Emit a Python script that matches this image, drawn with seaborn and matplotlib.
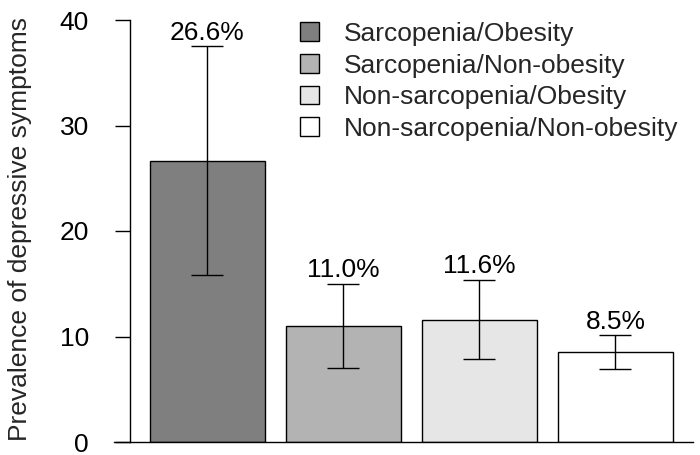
import numpy as np
import seaborn as sns
import matplotlib.pyplot as plt
from matplotlib.patches import Patch

groups = ['Sarcopenia/Obesity', 'Sarcopenia/Non-obesity',
          'Non-sarcopenia/Obesity', 'Non-sarcopenia/Non-obesity']
prevalence = [26.6, 11.0, 11.6, 8.5]
ci_low = [15.8, 7.0, 7.9, 6.9]
ci_high = [37.5, 15.0, 15.4, 10.1]
bar_labels = ['26.6%', '11.0%', '11.6%', '8.5%']
y_ticks = [0, 10, 20, 30, 40]
colors = ['#7F7F7F', '#B3B3B3', '#E6E6E6', '#FFFFFF']

sns.set_theme(style='white')
plt.rcParams['font.family'] = ['Liberation Sans', 'DejaVu Sans']
fs = 19

fig = plt.figure(figsize=(7, 4.55), dpi=100)
# axes spans the baseline (114..693 px), y from 0 at 442 px to 40 at 20 px
ax = fig.add_axes([114 / 700, 13 / 455, 579 / 700, 422 / 455])

sns.barplot(x=groups, y=prevalence, hue=groups, palette=colors, width=0.84,
            saturation=1, edgecolor='black', linewidth=1, legend=False, ax=ax)

x = np.arange(len(groups))
prev = np.array(prevalence)
yerr = [prev - np.array(ci_low), np.array(ci_high) - prev]
ax.errorbar(x, prev, yerr=yerr, fmt='none', ecolor='black',
            elinewidth=1, capsize=11.5, capthick=1)

for xi, top, lab in zip(x, ci_high, bar_labels):
    ax.annotate(lab, (xi, top), xytext=(0, 1), textcoords='offset points',
                ha='center', va='bottom', fontsize=fs, color='black')

ax.set_xlim(-0.6875, 3.57)
ax.set_ylim(0, 40)
ax.set_xticks([])
ax.set_xlabel('')
ax.set_yticks(y_ticks)
ax.set_yticklabels([str(t) for t in y_ticks], rotation=90, va='center')
ax.tick_params(axis='y', length=11, width=1, direction='out', labelsize=fs,
               pad=18.5, left=True, colors='black')
ax.set_ylabel('Prevalence of depressive symptoms', fontsize=fs)
ax.yaxis.set_label_coords(-82 / 579, 0.505)

for s in ['top', 'right']:
    ax.spines[s].set_visible(False)
ax.spines['left'].set_position(('axes', 16 / 579))
ax.spines['left'].set_bounds(0, 40)
for s in ['left', 'bottom']:
    ax.spines[s].set_color('black')
    ax.spines[s].set_linewidth(1)

handles = [Patch(facecolor=c, edgecolor='black', linewidth=1) for c in colors]
ax.legend(handles, groups, loc='upper left', bbox_to_anchor=(300 / 700, 1 - 22 / 455),
          bbox_transform=fig.transFigure, frameon=False, fontsize=fs,
          handlelength=0.72, handleheight=0.72, handletextpad=0.95,
          labelspacing=0.29, borderpad=0, borderaxespad=0)

fig.savefig('out.png', dpi=100)
